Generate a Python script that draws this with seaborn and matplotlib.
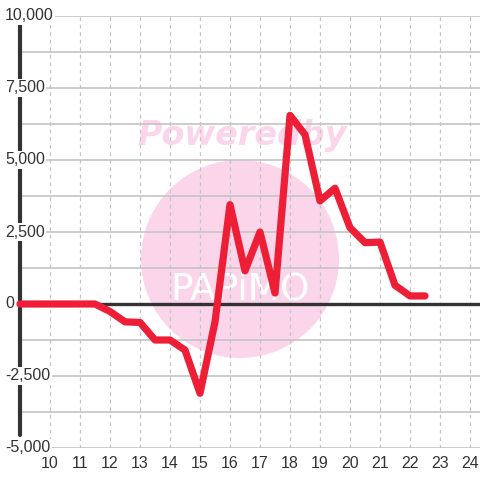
import matplotlib
matplotlib.use("Agg")
import matplotlib.pyplot as plt
import seaborn as sns
import pandas as pd
from matplotlib.patches import Circle

x_vals = [9, 9.5, 10, 10.5, 11, 11.5, 12, 12.5, 13, 13.5, 14, 14.5, 15, 15.5,
          16, 16.5, 17, 17.5, 18, 18.5, 19, 19.5, 20, 20.5, 21, 21.5, 22, 22.5]
y_vals = [0, 0, 0, 0, 0, 0, -260, -620, -640, -1250, -1250, -1600, -3100, -620,
          3450, 1150, 2500, 380, 6550, 5880, 3580, 4020, 2650, 2130, 2150, 650, 280, 280]
x_ticks = list(range(10, 25))
y_ticks = [-5000, -2500, 0, 2500, 5000, 7500, 10000]
y_grid = [-5000, -3750, -2500, -1250, 0, 1250, 2500, 3750, 5000, 6250, 7500, 8750, 10000]

df = pd.DataFrame({"x": x_vals, "y": y_vals})

sns.set_style("white")
plt.rcParams['font.family'] = ['Liberation Sans', 'DejaVu Sans']

fig = plt.figure(figsize=(4.8, 4.8), dpi=100)
fig.patch.set_facecolor("white")
ax = fig.add_axes([20/480, 32/480, 460/480, 432/480])
ax.set_xlim(9, 9 + 460/30)
ax.set_ylim(-5000, 10000)
for s in ax.spines.values():
    s.set_visible(False)
ax.set_xticks([])
ax.set_yticks([])

# watermark
circ = Circle((240/480, 1 - 259/480), 99/480, transform=fig.transFigure,
              facecolor="#fbd5ea", edgecolor="none", zorder=0.1)
ax.add_patch(circ)
ax.text(242/480, 1 - 135/480, "Poweredby", ha="center", va="center",
        transform=fig.transFigure, fontsize=24, fontweight="bold",
        style="italic", color="#fbd5ea", zorder=0.2, family="DejaVu Sans")
ax.text(240/480, 1 - 289/480, "PAPiMO", ha="center", va="center",
        transform=fig.transFigure, fontsize=27, fontweight="normal",
        color="white", family="DejaVu Sans", zorder=0.2)

# grid
for g in y_grid:
    ax.axhline(g, color="#c4c4c4", lw=1.2, zorder=0.5)
for t in x_ticks:
    ax.plot([t, t], [-5000, 10000], color="#c4c4c4", lw=0.9, ls=(0, (3, 3)), zorder=0.5)

# y axis line
ax.axvline(9, ymin=0.03, ymax=0.985, color="#333333", lw=3.0, zorder=2, clip_on=False)
# zero line
ax.axhline(0, color="#333333", lw=2.4, zorder=2)

sns.lineplot(data=df, x="x", y="y", ax=ax, color="#ee1e37", lw=5.2,
             zorder=3, solid_joinstyle="round", clip_on=False)
ax.set_xlabel("")
ax.set_ylabel("")

for v in y_ticks:
    ypix = 16 + (10000 - v) / 15000 * 432
    fig.text(5/480, 1 - ypix/480, f"{v:,}", ha="left", va="center",
             fontsize=11.5, color="#333333", zorder=5,
             bbox=dict(facecolor="white", edgecolor="none", pad=1.0))

for t in x_ticks:
    xpix = 20 + (t - 9) * 30
    fig.text(xpix/480, 1 - 463/480, str(t), ha="center", va="center",
             fontsize=11.5, color="#333333")

fig.savefig("out.png", dpi=100)
